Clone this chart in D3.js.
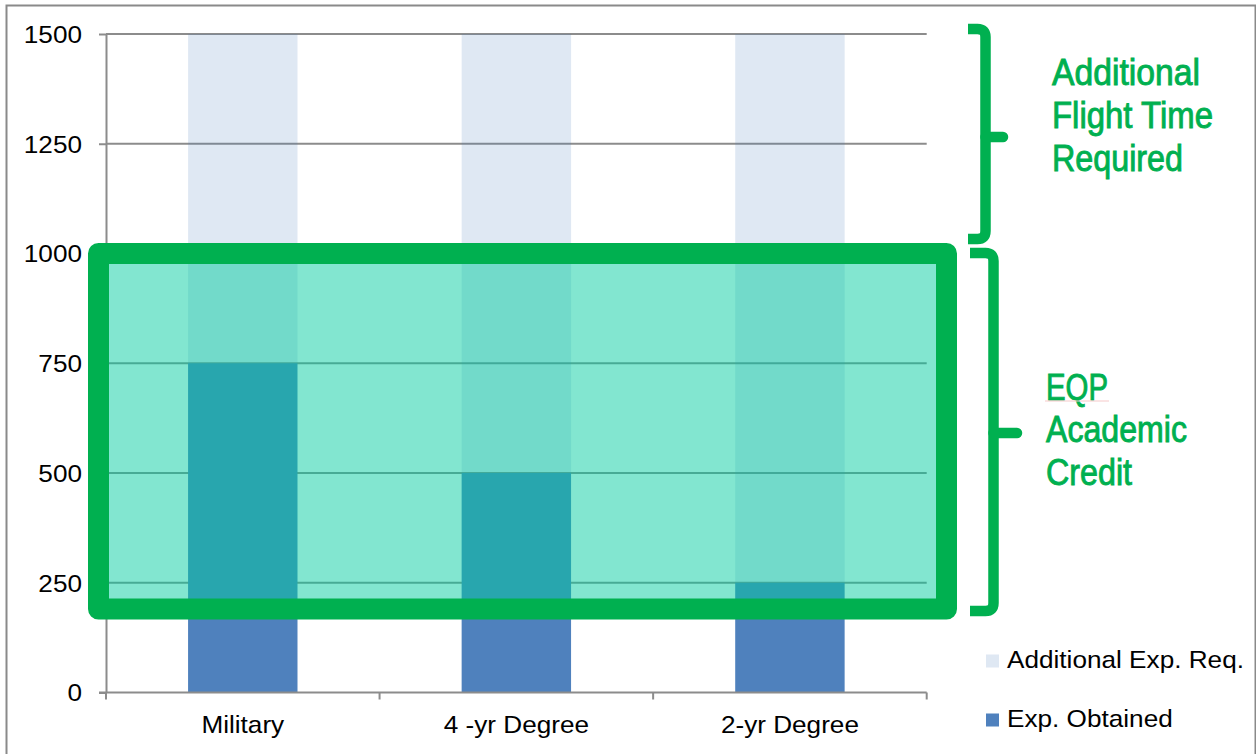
<!DOCTYPE html>
<html>
<head>
<meta charset="utf-8">
<script src="https://cdn.jsdelivr.net/npm/d3@7"></script>
<style>
  html, body { margin: 0; padding: 0; background: #fff; }
  svg { display: block; font-family: "Liberation Sans", Arial, sans-serif; }
</style>
</head>
<body>
<svg id="chart" width="1256" height="754"></svg>
<script>
// Experience toward the flight-hour requirement, by pathway
const categories = ["Military", "4 -yr Degree", "2-yr Degree"];
const expObtained = [750, 500, 250];
const additionalReq = [750, 1000, 1250];
const seriesNames = ["Additional Exp. Req.", "Exp. Obtained"];
const yTicks = [0, 250, 500, 750, 1000, 1250, 1500];

// Annotation: range of hours covered by academic credit
const creditBand = [190, 1000];
const topNote = ["Additional", "Flight Time", "Required"];
const bottomNote = ["EQP", "Academic", "Credit"];

const svg = d3.select("#chart");
const green = "#00b050";
const blue = "#4f81bd";
const sx = 1.09; // horizontal stretch of axis / legend type

const plot = { left: 106, right: 926.7, top: 34, bottom: 692.5 };

const y = d3.scaleLinear().domain([0, 1500]).range([plot.bottom, plot.top]);
const x = d3.scaleBand().domain(categories).range([plot.left, plot.right])
  .paddingInner(0.6).paddingOuter(0.3);

// outer frame
svg.append("rect").attr("x", 6.5).attr("y", 5.5).attr("width", 1249).attr("height", 780)
  .attr("fill", "none").attr("stroke", "#8a8a8a").attr("stroke-width", 2);

// gridlines
svg.append("g").selectAll("line").data(yTicks.filter(d => d > 0)).join("line")
  .attr("x1", plot.left).attr("x2", plot.right)
  .attr("y1", d => y(d)).attr("y2", d => y(d))
  .attr("stroke", "#8c8c8c").attr("stroke-width", 2);

// stacked bars
const rows = categories.map((c, i) => ({ cat: c, obtained: expObtained[i], additional: additionalReq[i] }));
const stack = d3.stack().keys(["obtained", "additional"])(rows);

svg.append("g").selectAll("rect").data(stack[0]).join("rect")
  .attr("x", d => x(d.data.cat)).attr("width", x.bandwidth())
  .attr("y", d => y(d[1])).attr("height", d => y(d[0]) - y(d[1]))
  .attr("fill", blue);

svg.append("g").selectAll("rect").data(stack[1]).join("rect")
  .attr("x", d => x(d.data.cat)).attr("width", x.bandwidth())
  .attr("y", d => y(d[1])).attr("height", d => y(d[0]) - y(d[1]))
  .attr("fill", blue).attr("fill-opacity", 0.18);

// y axis
const yAxis = svg.append("g").attr("transform", `translate(${plot.left},0)`)
  .call(d3.axisLeft(y).tickValues(yTicks).tickSize(7).tickSizeOuter(0).tickPadding(0));
yAxis.select(".domain").attr("stroke", "#8c8c8c").attr("stroke-width", 2);
yAxis.selectAll(".tick line").attr("stroke", "#8c8c8c").attr("stroke-width", 2);
yAxis.selectAll(".tick text").remove();
yAxis.selectAll(".tick").append("text")
  .attr("transform", `translate(-24,0) scale(${sx},1)`)
  .attr("dy", "0.35em").attr("text-anchor", "end")
  .attr("fill", "#000").attr("font-size", 24)
  .attr("font-family", "Liberation Sans, Arial, sans-serif")
  .text(d => d);

// x axis with tick marks on category boundaries
const xg = svg.append("g");
xg.append("line").attr("x1", plot.left - 7).attr("x2", plot.right)
  .attr("y1", plot.bottom).attr("y2", plot.bottom)
  .attr("stroke", "#8c8c8c").attr("stroke-width", 2);
const bounds = categories.map(c => x(c) - x.step() * x.paddingInner() / 2)
  .map((v, i) => i === 0 ? plot.left : v).concat([plot.right]);
xg.selectAll("line.b").data(bounds).join("line").attr("class", "b")
  .attr("x1", d => d).attr("x2", d => d)
  .attr("y1", plot.bottom).attr("y2", plot.bottom + 7)
  .attr("stroke", "#8c8c8c").attr("stroke-width", 2);
xg.selectAll("text").data(categories).join("text")
  .attr("transform", d => `translate(${x(d) + x.bandwidth() / 2},733) scale(${sx},1)`)
  .attr("text-anchor", "middle").attr("font-size", 24).attr("fill", "#000")
  .text(d => d);

// academic credit highlight box
svg.append("rect")
  .attr("x", 98.5).attr("y", y(creditBand[1]))
  .attr("width", 848).attr("height", y(creditBand[0]) - y(creditBand[1]))
  .attr("fill", "rgb(0,204,159)").attr("fill-opacity", 0.49)
  .attr("stroke", green).attr("stroke-width", 21).attr("stroke-linejoin", "round");

// braces
function brace(xl, xv, xn, y0, ym, y1) {
  const g = svg.append("g").attr("fill", "none").attr("stroke", green).attr("stroke-width", 10.5);
  g.append("path").attr("d",
    `M${xl},${y0} H${xv - 8} Q${xv},${y0} ${xv},${y0 + 8} V${y1 - 8} Q${xv},${y1} ${xv - 8},${y1} H${xl}`);
  g.append("path").attr("d", `M${xv},${ym} H${xn}`).attr("stroke-linecap", "round");
}
brace(968, 985.5, 1003, 29, 137, 239);
brace(970, 993.5, 1017, 253, 433, 611);

// brace labels
function note(lines, x0, baselines, widths) {
  svg.append("g").selectAll("text").data(lines).join("text")
    .attr("x", x0).attr("y", (d, i) => baselines[i])
    .attr("font-family", "'Liberation Sans Narrow', 'Liberation Sans', Arial, sans-serif")
    .attr("font-size", 36).attr("fill", green)
    .attr("stroke", green).attr("stroke-width", 0.9)
    .attr("textLength", (d, i) => widths[i]).attr("lengthAdjust", "spacingAndGlyphs")
    .text(d => d);
}
note(topNote, 1052, [85, 128, 171], [148, 161, 131]);
note(bottomNote, 1046, [400, 442, 485], [62, 141, 86]);
svg.append("line").attr("x1", 1045).attr("x2", 1109).attr("y1", 401).attr("y2", 401)
  .attr("stroke", "#f6c9c9").attr("stroke-width", 1);

// legend
const legend = svg.append("g");
const legendItems = [
  { name: seriesNames[0], fill: blue, op: 0.18, y: 661 },
  { name: seriesNames[1], fill: blue, op: 1, y: 720 }
];
legendItems.forEach(it => {
  legend.append("rect").attr("x", 986).attr("y", it.y - 6.5).attr("width", 13).attr("height", 13)
    .attr("fill", it.fill).attr("fill-opacity", it.op);
  legend.append("text")
    .attr("transform", `translate(1007,${it.y + 6.5}) scale(${sx},1)`)
    .attr("font-size", 24).attr("fill", "#000").text(it.name);
});
</script>
</body>
</html>
